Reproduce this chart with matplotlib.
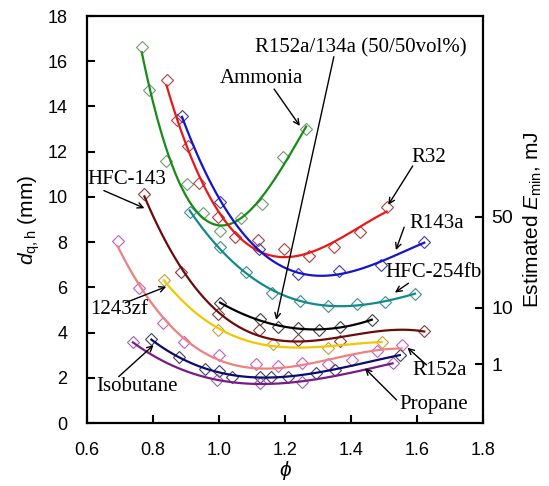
import numpy as np
import matplotlib
matplotlib.use("Agg")
import matplotlib.pyplot as plt

plt.rcParams['font.family'] = ['Liberation Sans', 'DejaVu Sans']
plt.rcParams['mathtext.fontset'] = 'custom'
plt.rcParams['mathtext.rm'] = 'Liberation Sans'
plt.rcParams['mathtext.it'] = 'Liberation Sans:italic'

# marker data (phi, quenching distance in mm)
ammonia_phi = [0.766, 0.789, 0.839, 0.902, 0.952, 1.003, 1.068, 1.131, 1.195, 1.264]
ammonia_d = [16.65, 14.73, 11.59, 10.56, 9.28, 8.5, 9.06, 9.69, 11.78, 13.0]

r32_phi = [0.841, 0.872, 0.905, 0.940, 0.998, 1.048, 1.119, 1.197, 1.274, 1.347, 1.427, 1.508]
r32_d = [15.15, 13.41, 12.23, 10.63, 9.13, 8.24, 8.1, 7.68, 7.39, 7.8, 8.47, 9.54]

r143a_phi = [0.888, 1.004, 1.12, 1.24, 1.364, 1.49, 1.622]
r143a_d = [13.57, 9.78, 7.7, 6.59, 6.74, 6.99, 8.02]

hfc254_phi = [0.911, 1.002, 1.082, 1.16, 1.245, 1.331, 1.417, 1.503, 1.594]
hfc254_d = [9.35, 7.8, 6.7, 5.74, 5.41, 5.18, 5.27, 5.37, 5.71]

hfc143_phi = [0.774, 0.886, 0.997, 1.12, 1.238, 1.367, 1.622]
hfc143_d = [10.12, 6.68, 4.82, 4.1, 3.67, 3.63, 4.08]

r152_134_phi = [1.003, 1.124, 1.178, 1.238, 1.304, 1.367, 1.463]
r152_134_d = [5.32, 4.59, 4.26, 4.19, 4.12, 4.26, 4.56]

zf1243_phi = [0.833, 0.998, 1.163, 1.331, 1.493]
zf1243_d = [6.33, 4.12, 3.5, 3.33, 3.6]

r152a_phi = [0.693, 0.758, 0.83, 0.895, 0.999, 1.112, 1.18, 1.25, 1.331, 1.402, 1.478, 1.553]
r152a_d = [8.05, 5.98, 4.41, 3.57, 3.01, 2.61, 2.52, 2.67, 2.61, 2.79, 3.19, 3.45]

isobutane_phi = [0.795, 0.878, 0.958, 0.999, 1.038, 1.124, 1.158, 1.21, 1.295, 1.352, 1.548]
isobutane_d = [3.7, 2.9, 2.4, 2.32, 2.02, 2.05, 2.05, 2.05, 2.23, 2.35, 3.01]

propane_phi = [0.739, 0.993, 1.124, 1.25, 1.526]
propane_d = [3.57, 1.9, 1.75, 1.83, 2.64]

series = [
    (ammonia_phi, ammonia_d, '#168c16', '#6f9a6f'),
    (r32_phi, r32_d, '#e81818', '#b04040'),
    (r143a_phi, r143a_d, '#1414d0', '#4040a0'),
    (hfc254_phi, hfc254_d, '#138a8a', '#3f8f8f'),
    (hfc143_phi, hfc143_d, '#6a0c0c', '#804040'),
    (r152_134_phi, r152_134_d, '#000000', '#404040'),
    (zf1243_phi, zf1243_d, '#f2c600', '#c0a040'),
    (r152a_phi, r152a_d, '#f08080', '#c060c0'),
    (isobutane_phi, isobutane_d, '#0a0a70', '#404060'),
    (propane_phi, propane_d, '#7a1a88', '#a060b0'),
]

# right axis: estimated minimum ignition energy ticks
emin_labels = ['50', '10', '1']
emin_pos = [9.13, 5.09, 2.61]

fig = plt.figure(figsize=(5.49, 4.86), dpi=100)
ax = fig.add_axes([0.1585, 0.1296, 0.7213, 0.8374])

for phi, d, col, mcol in series:
    phi = np.array(phi)
    d = np.array(d)
    coef = np.polyfit(phi, d, 3)
    xx = np.linspace(phi.min(), phi.max(), 100)
    ax.plot(xx, np.polyval(coef, xx), color=col, lw=1.6, zorder=3)
    ax.plot(phi, d, ls='none', marker='D', ms=6, mfc='none', mec=mcol,
            mew=0.8, zorder=2)

ax.set_xlim(0.6, 1.8)
ax.set_ylim(0, 18)
ax.set_xticks(np.arange(0.6, 1.81, 0.2))
ax.set_xticklabels(['%.1f' % v for v in np.arange(0.6, 1.81, 0.2)])
ax.set_yticks(range(0, 19, 2))
ax.tick_params(direction='in', length=6, width=1.5, labelsize=13, pad=14)
for sp in ax.spines.values():
    sp.set_linewidth(1.6)

ax.set_xlabel(r'$\it{\phi}$', fontsize=15, labelpad=0)
ax.set_ylabel(r'$\it{d}_{\rm q,h}$ (mm)', fontsize=15, labelpad=4)

ax2 = ax.twinx()
ax2.set_ylim(0, 18)
ax2.set_yticks(emin_pos)
ax2.set_yticklabels(emin_labels)
ax2.tick_params(direction='in', length=6, width=1.5, labelsize=14, pad=6)
for sp in ax2.spines.values():
    sp.set_visible(False)
ax2.set_ylabel(r'Estimated $\it{E}_{\rm min}$, mJ', fontsize=15, labelpad=6)

serif = dict(family=['Liberation Serif', 'DejaVu Serif'], fontsize=15)
arrow = dict(arrowstyle='->', color='black', lw=1.0, shrinkA=0, shrinkB=0)

notes = [
    ('R152a/134a (50/50vol%)', (1.173, 4.56), (1.348, 16.2), (1.43, 16.6)),
    ('Ammonia', (1.245, 13.14), (1.167, 14.77), (1.13, 15.22)),
    ('R32', (1.513, 9.65), (1.587, 11.37), (1.635, 11.76)),
    ('R143a', (1.536, 7.65), (1.561, 8.66), (1.66, 8.81)),
    ('HFC-254fb', (1.533, 5.77), (1.574, 6.18), (1.65, 6.65)),
    ('HFC-143', (0.774, 9.5), (0.651, 10.28), (0.721, 10.75)),
    ('1243zf', (0.840, 6.03), (0.716, 5.32), (0.696, 5.03)),
    ('Isobutane', (0.802, 3.45), (0.696, 2.05), (0.752, 1.61)),
    ('R152a', (1.571, 3.33), (1.629, 2.57), (1.67, 2.31)),
    ('Propane', (1.442, 2.42), (1.538, 1.02), (1.65, 0.8)),
]
for txt, tip, tail, pos in notes:
    ax.annotate('', xy=tip, xytext=tail, arrowprops=arrow, zorder=4)
    ax.text(pos[0], pos[1], txt, ha='center', va='center', zorder=5, **serif)

fig.savefig('out.png', dpi=100)
